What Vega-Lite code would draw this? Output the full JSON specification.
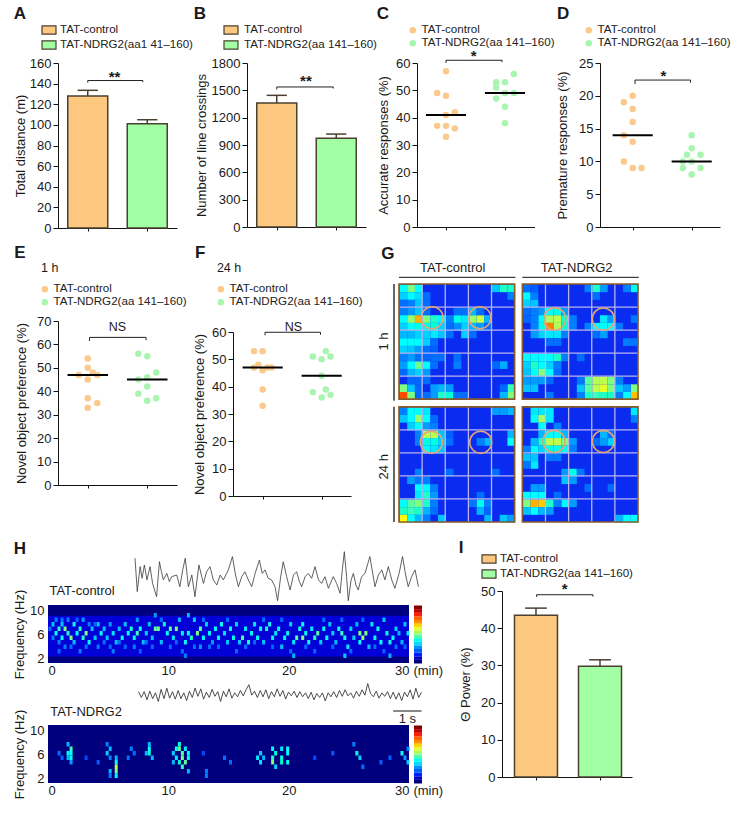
{"$schema":"https://vega.github.io/schema/vega-lite/v6.json","width":738,"height":813,"padding":0,"autosize":{"type":"fit","contains":"padding"},"background":"white",
"config":{"font":"Liberation Sans","view":{"stroke":null},"axis":{"labelFont":"Liberation Sans","titleFont":"Liberation Sans","labelFontSize":13,"titleFontSize":13,"titleFontWeight":"normal","labelColor":"#1a1a1a","titleColor":"#1a1a1a","domainColor":"#111","tickColor":"#111","grid":false,"tickSize":5,"labelPadding":2,"titlePadding":3,"labelOverlap":false,"format":"d"},"legend":{"labelFont":"Liberation Sans","labelFontSize":11.6,"labelColor":"#222","rowPadding":0,"labelOffset":3,"title":null},"text":{"font":"Liberation Sans","color":"#1a1a1a"}},
"resolve":{"scale":{"x":"independent","y":"independent","color":"independent"},"axis":{"x":"independent","y":"independent"},"legend":{"color":"independent"}},
"datasets":{"jetbar":[{"x0":0,"x1":1,"l":0,"v":0},{"x0":0,"x1":1,"l":1,"v":0.53},{"x0":0,"x1":1,"l":2,"v":1.07},{"x0":0,"x1":1,"l":3,"v":1.6},{"x0":0,"x1":1,"l":4,"v":2.13},{"x0":0,"x1":1,"l":5,"v":2.67},{"x0":0,"x1":1,"l":6,"v":3.2},{"x0":0,"x1":1,"l":7,"v":3.73},{"x0":0,"x1":1,"l":8,"v":4.27},{"x0":0,"x1":1,"l":9,"v":4.8},{"x0":0,"x1":1,"l":10,"v":5.33},{"x0":0,"x1":1,"l":11,"v":5.87},{"x0":0,"x1":1,"l":12,"v":6.4},{"x0":0,"x1":1,"l":13,"v":6.93},{"x0":0,"x1":1,"l":14,"v":7.47},{"x0":0,"x1":1,"l":15,"v":8}]},
"layer":[
{"layer":[
{"data":{"values":[{"g":"TAT-control","p":1,"m":128},{"g":"TAT-NDRG2(aa1 41–160)","p":2,"m":101}]},"mark":{"type":"bar","size":40,"orient":"vertical","stroke":"#4a4030","strokeWidth":1.5},"encoding":{"x":{"field":"p","type":"quantitative","scale":{"domain":[0.5,2.5],"range":[58,177],"nice":false,"zero":false,"padding":0},"axis":{"orient":"bottom","values":[1,2],"labels":false,"title":null,"tickSize":3,"offset":-585}},"y":{"field":"m","type":"quantitative","stack":null,"scale":{"domain":[0,160],"range":[228,63],"nice":false,"zero":false},"axis":{"orient":"left","values":[0,20,40,60,80,100,120,140,160],"title":"Total distance (m)","offset":-58,"format":"d","titlePadding":1.5}},"color":{"field":"g","type":"nominal","scale":{"domain":["TAT-control","TAT-NDRG2(aa1 41–160)"],"range":["#fcc77f","#a3ffa3"]},"legend":{"orient":"none","legendX":41,"legendY":22,"symbolType":"M-1,-0.6H1V0.6H-1Z","symbolSize":196,"symbolStrokeColor":"#4a4030","symbolStrokeWidth":1.2,"rowPadding":-3}}}},
{"data":{"values":[{"x":1,"x2":1,"y":128,"y2":133.5},{"x":0.83,"x2":1.17,"y":133.5,"y2":133.5},{"x":2,"x2":2,"y":101,"y2":105},{"x":1.83,"x2":2.17,"y":105,"y2":105}]},"mark":{"type":"rule","stroke":"#4a4030","strokeWidth":1.5},"encoding":{"x":{"field":"x","type":"quantitative"},"x2":{"field":"x2"},"y":{"field":"y","type":"quantitative"},"y2":{"field":"y2"}}},
{"data":{"values":[{"x":1,"x2":1,"y":141,"y2":143},{"x":1,"x2":1.925,"y":143,"y2":143},{"x":1.925,"x2":1.925,"y":143,"y2":141.5}]},"mark":{"type":"rule","stroke":"#222","strokeWidth":1},"encoding":{"x":{"field":"x","type":"quantitative"},"x2":{"field":"x2"},"y":{"field":"y","type":"quantitative"},"y2":{"field":"y2"}}},
{"data":{"values":[{"x":1.45,"y":146,"t":"**"}]},"mark":{"type":"text","fontSize":15,"fontWeight":"bold"},"encoding":{"x":{"field":"x","type":"quantitative"},"y":{"field":"y","type":"quantitative"},"text":{"field":"t"}}},
{"data":{"values":[{"x":-0.14,"y":207.5,"t":"A"}]},"mark":{"type":"text","fontSize":17,"fontWeight":"bold"},"encoding":{"x":{"field":"x","type":"quantitative"},"y":{"field":"y","type":"quantitative"},"text":{"field":"t"}}}
]},
{"layer":[
{"data":{"values":[{"g":"TAT-control","p":1,"m":1360},{"g":"TAT-NDRG2(aa 141–160)","p":2,"m":975}]},"mark":{"type":"bar","size":40,"orient":"vertical","stroke":"#4a4030","strokeWidth":1.5},"encoding":{"x":{"field":"p","type":"quantitative","scale":{"domain":[0.5,2.5],"range":[247,366],"nice":false,"zero":false,"padding":0},"axis":{"orient":"bottom","values":[1,2],"labels":false,"title":null,"tickSize":3,"offset":-586}},"y":{"field":"m","type":"quantitative","stack":null,"scale":{"domain":[0,1800],"range":[227,63],"nice":false,"zero":false},"axis":{"orient":"left","values":[0,300,600,900,1200,1500,1800],"title":"Number of line crossings","offset":-247,"format":"d"}},"color":{"field":"g","type":"nominal","scale":{"domain":["TAT-control","TAT-NDRG2(aa 141–160)"],"range":["#fcc77f","#a3ffa3"]},"legend":{"orient":"none","legendX":223,"legendY":22,"symbolType":"M-1,-0.6H1V0.6H-1Z","symbolSize":196,"symbolStrokeColor":"#4a4030","symbolStrokeWidth":1.2,"rowPadding":-3,"labelOffset":5}}}},
{"data":{"values":[{"x":1,"x2":1,"y":1360,"y2":1445},{"x":0.83,"x2":1.17,"y":1445,"y2":1445},{"x":2,"x2":2,"y":975,"y2":1020},{"x":1.83,"x2":2.17,"y":1020,"y2":1020}]},"mark":{"type":"rule","stroke":"#4a4030","strokeWidth":1.5},"encoding":{"x":{"field":"x","type":"quantitative"},"x2":{"field":"x2"},"y":{"field":"y","type":"quantitative"},"y2":{"field":"y2"}}},
{"data":{"values":[{"x":1,"x2":1,"y":1510,"y2":1537},{"x":1,"x2":1.95,"y":1537,"y2":1537},{"x":1.95,"x2":1.95,"y":1537,"y2":1520}]},"mark":{"type":"rule","stroke":"#222","strokeWidth":1},"encoding":{"x":{"field":"x","type":"quantitative"},"x2":{"field":"x2"},"y":{"field":"y","type":"quantitative"},"y2":{"field":"y2"}}},
{"data":{"values":[{"x":1.49,"y":1600,"t":"**"}]},"mark":{"type":"text","fontSize":15,"fontWeight":"bold"},"encoding":{"x":{"field":"x","type":"quantitative"},"y":{"field":"y","type":"quantitative"},"text":{"field":"t"}}},
{"data":{"values":[{"x":-0.29,"y":2338,"t":"B"}]},"mark":{"type":"text","fontSize":17,"fontWeight":"bold"},"encoding":{"x":{"field":"x","type":"quantitative"},"y":{"field":"y","type":"quantitative"},"text":{"field":"t"}}}
]},
{"layer":[
{"data":{"values":[{"g":"TAT-control","p":1,"m":57},{"g":"TAT-control","p":0.85,"m":49},{"g":"TAT-control","p":1,"m":48},{"g":"TAT-control","p":1.15,"m":42},{"g":"TAT-control","p":1,"m":41},{"g":"TAT-control","p":0.85,"m":37},{"g":"TAT-control","p":1,"m":37},{"g":"TAT-control","p":1.15,"m":36},{"g":"TAT-control","p":1,"m":33},{"g":"TAT-NDRG2(aa 141–160)","p":1.85,"m":53},{"g":"TAT-NDRG2(aa 141–160)","p":2,"m":53},{"g":"TAT-NDRG2(aa 141–160)","p":2.15,"m":56},{"g":"TAT-NDRG2(aa 141–160)","p":1.85,"m":51},{"g":"TAT-NDRG2(aa 141–160)","p":2,"m":49},{"g":"TAT-NDRG2(aa 141–160)","p":2.15,"m":49},{"g":"TAT-NDRG2(aa 141–160)","p":1.85,"m":47},{"g":"TAT-NDRG2(aa 141–160)","p":2,"m":44},{"g":"TAT-NDRG2(aa 141–160)","p":2,"m":38}]},"mark":{"type":"circle","size":42,"opacity":1},"encoding":{"x":{"field":"p","type":"quantitative","scale":{"domain":[0.5,2.5],"range":[416.5,534.5],"nice":false,"zero":false},"axis":{"orient":"bottom","values":[1,2],"labels":false,"title":null,"tickSize":3,"offset":-586}},"y":{"field":"m","type":"quantitative","scale":{"domain":[0,60],"range":[227,63],"nice":false,"zero":false},"axis":{"orient":"left","values":[0,10,20,30,40,50,60],"title":"Accurate responses (%)","offset":-417,"format":"d","titlePadding":5}},"color":{"field":"g","type":"nominal","scale":{"domain":["TAT-control","TAT-NDRG2(aa 141–160)"],"range":["#fbc98c","#a8f5b0"]},"legend":{"orient":"none","legendX":407,"legendY":24.5,"symbolType":"circle","symbolSize":42}}}},
{"data":{"values":[{"x":0.66,"x2":1.34,"y":41,"y2":41},{"x":1.66,"x2":2.34,"y":49,"y2":49}]},"mark":{"type":"rule","stroke":"#000","strokeWidth":2},"encoding":{"x":{"field":"x","type":"quantitative"},"x2":{"field":"x2"},"y":{"field":"y","type":"quantitative"},"y2":{"field":"y2"}}},
{"data":{"values":[{"x":1,"x2":1,"y":60,"y2":61},{"x":1,"x2":1.95,"y":61,"y2":61},{"x":1.95,"x2":1.95,"y":61,"y2":60.3}]},"mark":{"type":"rule","stroke":"#222","strokeWidth":1},"encoding":{"x":{"field":"x","type":"quantitative"},"x2":{"field":"x2"},"y":{"field":"y","type":"quantitative"},"y2":{"field":"y2"}}},
{"data":{"values":[{"x":1.47,"y":62.5,"t":"*"}]},"mark":{"type":"text","fontSize":15,"fontWeight":"bold"},"encoding":{"x":{"field":"x","type":"quantitative"},"y":{"field":"y","type":"quantitative"},"text":{"field":"t"}}},
{"data":{"values":[{"x":-0.07,"y":78,"t":"C"}]},"mark":{"type":"text","fontSize":17,"fontWeight":"bold"},"encoding":{"x":{"field":"x","type":"quantitative"},"y":{"field":"y","type":"quantitative"},"text":{"field":"t"}}}
]},
{"layer":[
{"data":{"values":[{"g":"TAT-control","p":1,"m":20},{"g":"TAT-control","p":0.85,"m":19},{"g":"TAT-control","p":1,"m":18},{"g":"TAT-control","p":1,"m":16},{"g":"TAT-control","p":0.85,"m":14},{"g":"TAT-control","p":1,"m":13},{"g":"TAT-control","p":0.85,"m":10},{"g":"TAT-control","p":1,"m":9},{"g":"TAT-control","p":1.15,"m":9},{"g":"TAT-NDRG2(aa 141–160)","p":2,"m":14},{"g":"TAT-NDRG2(aa 141–160)","p":2,"m":12},{"g":"TAT-NDRG2(aa 141–160)","p":1.92,"m":11},{"g":"TAT-NDRG2(aa 141–160)","p":2.15,"m":11},{"g":"TAT-NDRG2(aa 141–160)","p":1.85,"m":10},{"g":"TAT-NDRG2(aa 141–160)","p":2,"m":10},{"g":"TAT-NDRG2(aa 141–160)","p":1.85,"m":9},{"g":"TAT-NDRG2(aa 141–160)","p":2.15,"m":9},{"g":"TAT-NDRG2(aa 141–160)","p":2,"m":8}]},"mark":{"type":"circle","size":42,"opacity":1},"encoding":{"x":{"field":"p","type":"quantitative","scale":{"domain":[0.446,2.48],"range":[600,720],"nice":false,"zero":false},"axis":{"orient":"bottom","values":[1,2],"labels":false,"title":null,"tickSize":3,"offset":-586}},"y":{"field":"m","type":"quantitative","scale":{"domain":[0,25],"range":[227,63],"nice":false,"zero":false},"axis":{"orient":"left","values":[0,5,10,15,20,25],"title":"Premature responses (%)","offset":-600,"format":"d","titlePadding":9}},"color":{"field":"g","type":"nominal","scale":{"domain":["TAT-control","TAT-NDRG2(aa 141–160)"],"range":["#fbc98c","#a8f5b0"]},"legend":{"orient":"none","legendX":583,"legendY":24.5,"symbolType":"circle","symbolSize":42}}}},
{"data":{"values":[{"x":0.66,"x2":1.34,"y":14,"y2":14},{"x":1.66,"x2":2.34,"y":10,"y2":10}]},"mark":{"type":"rule","stroke":"#000","strokeWidth":2},"encoding":{"x":{"field":"x","type":"quantitative"},"x2":{"field":"x2"},"y":{"field":"y","type":"quantitative"},"y2":{"field":"y2"}}},
{"data":{"values":[{"x":1.04,"x2":1.04,"y":21.8,"y2":22.4},{"x":1.04,"x2":1.98,"y":22.4,"y2":22.4},{"x":1.98,"x2":1.98,"y":22.4,"y2":22}]},"mark":{"type":"rule","stroke":"#222","strokeWidth":1},"encoding":{"x":{"field":"x","type":"quantitative"},"x2":{"field":"x2"},"y":{"field":"y","type":"quantitative"},"y2":{"field":"y2"}}},
{"data":{"values":[{"x":1.52,"y":23,"t":"*"}]},"mark":{"type":"text","fontSize":15,"fontWeight":"bold"},"encoding":{"x":{"field":"x","type":"quantitative"},"y":{"field":"y","type":"quantitative"},"text":{"field":"t"}}},
{"data":{"values":[{"x":-0.18,"y":32.5,"t":"D"}]},"mark":{"type":"text","fontSize":17,"fontWeight":"bold"},"encoding":{"x":{"field":"x","type":"quantitative"},"y":{"field":"y","type":"quantitative"},"text":{"field":"t"}}}
]},
{"layer":[
{"data":{"values":[{"g":"TAT-control","p":1,"m":54},{"g":"TAT-control","p":1,"m":50},{"g":"TAT-control","p":1.085,"m":48},{"g":"TAT-control","p":0.85,"m":47},{"g":"TAT-control","p":1.16,"m":47},{"g":"TAT-control","p":1,"m":45},{"g":"TAT-control","p":1,"m":37},{"g":"TAT-control","p":1.16,"m":35},{"g":"TAT-control","p":1,"m":33},{"g":"TAT-NDRG2(aa 141–160)","p":1.85,"m":56},{"g":"TAT-NDRG2(aa 141–160)","p":2,"m":55},{"g":"TAT-NDRG2(aa 141–160)","p":2.15,"m":48},{"g":"TAT-NDRG2(aa 141–160)","p":2,"m":46},{"g":"TAT-NDRG2(aa 141–160)","p":1.85,"m":45},{"g":"TAT-NDRG2(aa 141–160)","p":2,"m":42},{"g":"TAT-NDRG2(aa 141–160)","p":1.85,"m":39},{"g":"TAT-NDRG2(aa 141–160)","p":2.15,"m":37},{"g":"TAT-NDRG2(aa 141–160)","p":2,"m":36}]},"mark":{"type":"circle","size":42,"opacity":1},"encoding":{"x":{"field":"p","type":"quantitative","scale":{"domain":[0.5,2.5],"range":[58,177],"nice":false,"zero":false},"axis":{"orient":"bottom","values":[1,2],"labels":false,"title":null,"tickSize":3,"offset":-328}},"y":{"field":"m","type":"quantitative","scale":{"domain":[0,70],"range":[485,321],"nice":false,"zero":false},"axis":{"orient":"left","values":[0,10,20,30,40,50,60,70],"title":"Novel object preference (%)","offset":-58,"format":"d","titlePadding":8}},"color":{"field":"g","type":"nominal","scale":{"domain":["TAT-control","TAT-NDRG2(aa 141–160)"],"range":["#fbc98c","#a8f5b0"]},"legend":{"orient":"none","legendX":39,"legendY":283.5,"symbolType":"circle","symbolSize":42}}}},
{"data":{"values":[{"x":0.66,"x2":1.34,"y":47,"y2":47},{"x":1.66,"x2":2.34,"y":45,"y2":45}]},"mark":{"type":"rule","stroke":"#000","strokeWidth":2},"encoding":{"x":{"field":"x","type":"quantitative"},"x2":{"field":"x2"},"y":{"field":"y","type":"quantitative"},"y2":{"field":"y2"}}},
{"data":{"values":[{"x":1.03,"x2":1.03,"y":61.5,"y2":63},{"x":1.03,"x2":1.98,"y":63,"y2":63},{"x":1.98,"x2":1.98,"y":63,"y2":61.8}]},"mark":{"type":"rule","stroke":"#222","strokeWidth":1},"encoding":{"x":{"field":"x","type":"quantitative"},"x2":{"field":"x2"},"y":{"field":"y","type":"quantitative"},"y2":{"field":"y2"}}},
{"data":{"values":[{"x":1.5,"y":67.5,"t":"NS"},{"x":0.36,"y":92.6,"t":"1 h"}]},"mark":{"type":"text","fontSize":12.5},"encoding":{"x":{"field":"x","type":"quantitative"},"y":{"field":"y","type":"quantitative"},"text":{"field":"t"}}},
{"data":{"values":[{"x":-0.14,"y":99,"t":"E"}]},"mark":{"type":"text","fontSize":17,"fontWeight":"bold"},"encoding":{"x":{"field":"x","type":"quantitative"},"y":{"field":"y","type":"quantitative"},"text":{"field":"t"}}}
]},
{"layer":[
{"data":{"values":[{"g":"TAT-control","p":0.853,"m":53},{"g":"TAT-control","p":1,"m":53},{"g":"TAT-control","p":0.927,"m":48},{"g":"TAT-control","p":0.853,"m":47},{"g":"TAT-control","p":1.08,"m":47},{"g":"TAT-control","p":1.15,"m":47},{"g":"TAT-control","p":1,"m":46},{"g":"TAT-control","p":1,"m":39},{"g":"TAT-control","p":1,"m":33},{"g":"TAT-NDRG2(aa 141–160)","p":2.07,"m":53},{"g":"TAT-NDRG2(aa 141–160)","p":1.85,"m":51},{"g":"TAT-NDRG2(aa 141–160)","p":2.15,"m":51},{"g":"TAT-NDRG2(aa 141–160)","p":2,"m":50},{"g":"TAT-NDRG2(aa 141–160)","p":2,"m":44},{"g":"TAT-NDRG2(aa 141–160)","p":1.85,"m":38},{"g":"TAT-NDRG2(aa 141–160)","p":2.07,"m":39},{"g":"TAT-NDRG2(aa 141–160)","p":2.15,"m":37},{"g":"TAT-NDRG2(aa 141–160)","p":2,"m":36}]},"mark":{"type":"circle","size":42,"opacity":1},"encoding":{"x":{"field":"p","type":"quantitative","scale":{"domain":[0.497,2.497],"range":[233,351],"nice":false,"zero":false},"axis":{"orient":"bottom","values":[1,2],"labels":false,"title":null,"tickSize":3,"offset":-317}},"y":{"field":"m","type":"quantitative","scale":{"domain":[0,60],"range":[496,332],"nice":false,"zero":false},"axis":{"orient":"left","values":[0,10,20,30,40,50,60],"title":"Novel object preference (%)","offset":-233,"format":"d","titlePadding":5}},"color":{"field":"g","type":"nominal","scale":{"domain":["TAT-control","TAT-NDRG2(aa 141–160)"],"range":["#fbc98c","#a8f5b0"]},"legend":{"orient":"none","legendX":215,"legendY":283.5,"symbolType":"circle","symbolSize":42}}}},
{"data":{"values":[{"x":0.66,"x2":1.34,"y":47,"y2":47},{"x":1.66,"x2":2.34,"y":44,"y2":44}]},"mark":{"type":"rule","stroke":"#000","strokeWidth":2},"encoding":{"x":{"field":"x","type":"quantitative"},"x2":{"field":"x2"},"y":{"field":"y","type":"quantitative"},"y2":{"field":"y2"}}},
{"data":{"values":[{"x":1.04,"x2":1.04,"y":58.8,"y2":59.9},{"x":1.04,"x2":1.98,"y":59.9,"y2":59.9},{"x":1.98,"x2":1.98,"y":59.9,"y2":59}]},"mark":{"type":"rule","stroke":"#222","strokeWidth":1},"encoding":{"x":{"field":"x","type":"quantitative"},"x2":{"field":"x2"},"y":{"field":"y","type":"quantitative"},"y2":{"field":"y2"}}},
{"data":{"values":[{"x":1.52,"y":62,"t":"NS"},{"x":0.43,"y":83.4,"t":"24 h"}]},"mark":{"type":"text","fontSize":12.5},"encoding":{"x":{"field":"x","type":"quantitative"},"y":{"field":"y","type":"quantitative"},"text":{"field":"t"}}},
{"data":{"values":[{"x":-0.06,"y":89,"t":"F"}]},"mark":{"type":"text","fontSize":17,"fontWeight":"bold"},"encoding":{"x":{"field":"x","type":"quantitative"},"y":{"field":"y","type":"quantitative"},"text":{"field":"t"}}}
]},
{"layer":[
{"data":{"values":[{"x":0,"x2":15,"y":0,"y2":15},{"x":16,"x2":31,"y":0,"y2":15},{"x":0,"x2":15,"y":16,"y2":31},{"x":16,"x2":31,"y":16,"y2":31}]},"mark":{"type":"rect","fill":"#0a2cf0"},"encoding":{"x":{"field":"x","type":"quantitative","scale":{"domain":[0,31],"range":[399,638],"nice":false,"zero":false},"axis":null},"x2":{"field":"x2"},"y":{"field":"y","type":"quantitative","scale":{"domain":[0,31],"range":[284,522],"nice":false,"zero":false},"axis":null},"y2":{"field":"y2"}}},
{"data":{"values":[{"c":0,"r":0,"v":3},{"c":1,"r":0,"v":4},{"c":2,"r":0,"v":3},{"c":0,"r":1,"v":2.6},{"c":1,"r":1,"v":3},{"c":2,"r":1,"v":2.7},{"c":2,"r":2,"v":2.5},{"c":2,"r":3,"v":2.5},{"c":1,"r":3,"v":2.2},{"c":0,"r":3,"v":2},{"c":13,"r":0,"v":3.5},{"c":14,"r":0,"v":3.5},{"c":12,"r":0,"v":2.5},{"c":14,"r":1,"v":2},{"c":0,"r":4,"v":3},{"c":1,"r":4,"v":4.2},{"c":2,"r":4,"v":5.6},{"c":3,"r":4,"v":4},{"c":4,"r":4,"v":3.5},{"c":5,"r":4,"v":3},{"c":0,"r":5,"v":2.6},{"c":1,"r":5,"v":3},{"c":2,"r":5,"v":3.2},{"c":3,"r":5,"v":3.2},{"c":4,"r":5,"v":3.4},{"c":5,"r":5,"v":2.6},{"c":3,"r":6,"v":2.6},{"c":4,"r":6,"v":2.8},{"c":5,"r":6,"v":2.5},{"c":0,"r":6,"v":2.4},{"c":1,"r":6,"v":2.4},{"c":2,"r":6,"v":2.6},{"c":0,"r":7,"v":3},{"c":1,"r":7,"v":3.1},{"c":2,"r":7,"v":3},{"c":3,"r":7,"v":2.6},{"c":0,"r":8,"v":2.6},{"c":1,"r":8,"v":2.5},{"c":2,"r":8,"v":2.2},{"c":7,"r":4,"v":3.2},{"c":8,"r":4,"v":2.8},{"c":9,"r":4,"v":4.2},{"c":10,"r":4,"v":4.6},{"c":11,"r":4,"v":2.4},{"c":9,"r":3,"v":2.4},{"c":7,"r":3,"v":1.8},{"c":10,"r":5,"v":2.2},{"c":8,"r":5,"v":2.6},{"c":9,"r":5,"v":2.4},{"c":8,"r":6,"v":2.6},{"c":7,"r":5,"v":2.1},{"c":0,"r":9,"v":2},{"c":1,"r":9,"v":2.2},{"c":1,"r":10,"v":3},{"c":2,"r":10,"v":3.9},{"c":3,"r":10,"v":3},{"c":0,"r":10,"v":2.2},{"c":1,"r":11,"v":2.4},{"c":2,"r":11,"v":2.6},{"c":3,"r":11,"v":2.2},{"c":4,"r":9,"v":1.8},{"c":5,"r":9,"v":1.8},{"c":7,"r":9,"v":1.8},{"c":7,"r":10,"v":2},{"c":13,"r":10,"v":2.3},{"c":12,"r":10,"v":1.7},{"c":0,"r":14,"v":6.6},{"c":1,"r":14,"v":4},{"c":0,"r":13,"v":4},{"c":1,"r":13,"v":2.5},{"c":4,"r":13,"v":2.2},{"c":4,"r":14,"v":2.2},{"c":5,"r":14,"v":3.5},{"c":6,"r":14,"v":3.4},{"c":5,"r":13,"v":2.4},{"c":6,"r":13,"v":2.2},{"c":14,"r":13,"v":3.6},{"c":14,"r":14,"v":4},{"c":13,"r":14,"v":2.4},{"c":3,"r":12,"v":1.8},{"c":8,"r":14,"v":1.8},{"c":3,"r":1,"v":1.8},{"c":3,"r":2,"v":1.8},{"c":1,"r":2,"v":2},{"c":0,"r":2,"v":1.8},{"c":3,"r":3,"v":1.8},{"c":6,"r":4,"v":2},{"c":6,"r":5,"v":1.8},{"c":6,"r":6,"v":1.8},{"c":4,"r":7,"v":1.8},{"c":4,"r":8,"v":1.6},{"c":3,"r":8,"v":1.8},{"c":3,"r":9,"v":1.7},{"c":2,"r":9,"v":1.8},{"c":4,"r":10,"v":1.8},{"c":0,"r":11,"v":1.7},{"c":2,"r":12,"v":1.7},{"c":1,"r":12,"v":1.7},{"c":2,"r":13,"v":1.7},{"c":2,"r":14,"v":1.7},{"c":3,"r":14,"v":1.8},{"c":7,"r":14,"v":1.8},{"c":13,"r":13,"v":1.7},{"c":8,"r":3,"v":1.8},{"c":10,"r":3,"v":1.8},{"c":11,"r":5,"v":1.7},{"c":9,"r":6,"v":1.8},
{"c":16,"r":1,"v":3},{"c":17,"r":1,"v":2},{"c":16,"r":2,"v":2.6},{"c":17,"r":2,"v":2.5},{"c":17,"r":3,"v":2},{"c":18,"r":3,"v":2.2},{"c":19,"r":3,"v":3},{"c":20,"r":3,"v":3.2},{"c":21,"r":3,"v":2.2},{"c":18,"r":4,"v":3},{"c":19,"r":4,"v":4.4},{"c":20,"r":4,"v":4.5},{"c":21,"r":4,"v":3.5},{"c":18,"r":5,"v":3.2},{"c":19,"r":5,"v":6},{"c":20,"r":5,"v":4.4},{"c":21,"r":5,"v":3.4},{"c":19,"r":6,"v":2.8},{"c":20,"r":6,"v":2.8},{"c":18,"r":6,"v":2.6},{"c":17,"r":6,"v":2.2},{"c":25,"r":0,"v":3.5},{"c":24,"r":0,"v":2},{"c":26,"r":0,"v":2.2},{"c":25,"r":1,"v":1.8},{"c":26,"r":4,"v":2.8},{"c":27,"r":4,"v":2.2},{"c":25,"r":5,"v":3},{"c":26,"r":5,"v":3},{"c":27,"r":5,"v":3},{"c":26,"r":6,"v":2.2},{"c":30,"r":0,"v":3.2},{"c":29,"r":0,"v":2},{"c":30,"r":4,"v":1.9},{"c":29,"r":7,"v":2},{"c":30,"r":7,"v":1.9},{"c":20,"r":7,"v":1.8},{"c":17,"r":9,"v":3},{"c":16,"r":9,"v":3},{"c":18,"r":9,"v":3},{"c":19,"r":9,"v":3},{"c":20,"r":9,"v":3.5},{"c":16,"r":10,"v":2.6},{"c":17,"r":10,"v":3.5},{"c":18,"r":10,"v":3},{"c":19,"r":10,"v":2.6},{"c":16,"r":11,"v":2.5},{"c":17,"r":11,"v":3},{"c":18,"r":11,"v":4},{"c":19,"r":11,"v":3},{"c":16,"r":12,"v":2.2},{"c":17,"r":12,"v":2.2},{"c":18,"r":12,"v":2.2},{"c":16,"r":13,"v":2.5},{"c":17,"r":13,"v":2.5},{"c":23,"r":9,"v":1.8},{"c":24,"r":12,"v":3.8},{"c":24,"r":13,"v":3.8},{"c":24,"r":14,"v":3.5},{"c":25,"r":12,"v":4.4},{"c":26,"r":12,"v":4.5},{"c":25,"r":13,"v":4.5},{"c":26,"r":13,"v":4.8},{"c":25,"r":14,"v":3.6},{"c":26,"r":14,"v":3.5},{"c":27,"r":12,"v":4},{"c":27,"r":13,"v":4},{"c":27,"r":14,"v":3.5},{"c":23,"r":13,"v":2.5},{"c":28,"r":13,"v":2.5},{"c":30,"r":14,"v":5.5},{"c":30,"r":13,"v":4},{"c":29,"r":14,"v":3},{"c":19,"r":14,"v":1.9},{"c":16,"r":3,"v":1.8},{"c":22,"r":4,"v":2},{"c":22,"r":5,"v":2},{"c":21,"r":6,"v":2},{"c":16,"r":0,"v":1.8},{"c":17,"r":0,"v":1.6},{"c":19,"r":7,"v":1.8},{"c":16,"r":4,"v":1.7},{"c":17,"r":4,"v":2},{"c":17,"r":5,"v":2},{"c":24,"r":5,"v":2},{"c":28,"r":5,"v":1.9},{"c":25,"r":6,"v":1.8},{"c":23,"r":12,"v":1.9},{"c":28,"r":12,"v":2},{"c":23,"r":14,"v":2},{"c":28,"r":14,"v":2},{"c":29,"r":13,"v":2.2},{"c":20,"r":10,"v":2},{"c":21,"r":9,"v":2},{"c":20,"r":11,"v":1.8},{"c":19,"r":12,"v":1.7},
{"c":2,"r":17,"v":4.2},{"c":1,"r":16,"v":3},{"c":2,"r":16,"v":3},{"c":3,"r":16,"v":2.8},{"c":1,"r":17,"v":3},{"c":3,"r":17,"v":3},{"c":0,"r":17,"v":2.5},{"c":1,"r":18,"v":2.6},{"c":2,"r":18,"v":3},{"c":3,"r":19,"v":4.5},{"c":4,"r":19,"v":4.5},{"c":5,"r":19,"v":2.5},{"c":3,"r":20,"v":3.3},{"c":4,"r":20,"v":3.3},{"c":5,"r":20,"v":2.6},{"c":3,"r":21,"v":3},{"c":4,"r":21,"v":2.8},{"c":5,"r":21,"v":2.5},{"c":14,"r":20,"v":3},{"c":14,"r":19,"v":2.4},{"c":11,"r":20,"v":2.4},{"c":10,"r":20,"v":2},{"c":12,"r":16,"v":2.2},{"c":13,"r":16,"v":2.2},{"c":14,"r":16,"v":2.4},{"c":1,"r":25,"v":2.2},{"c":2,"r":26,"v":3},{"c":3,"r":26,"v":3},{"c":3,"r":27,"v":3.5},{"c":2,"r":27,"v":2.8},{"c":1,"r":28,"v":3.8},{"c":2,"r":28,"v":4},{"c":3,"r":28,"v":3.5},{"c":0,"r":28,"v":3},{"c":0,"r":29,"v":3.5},{"c":1,"r":29,"v":3.6},{"c":2,"r":29,"v":3.5},{"c":0,"r":30,"v":5},{"c":1,"r":30,"v":3},{"c":2,"r":30,"v":2.4},{"c":10,"r":28,"v":3.2},{"c":10,"r":29,"v":2.4},{"c":5,"r":30,"v":2.5},{"c":11,"r":30,"v":2.4},{"c":13,"r":30,"v":2.5},{"c":14,"r":30,"v":2.2},{"c":9,"r":28,"v":1.9},{"c":2,"r":24,"v":2},{"c":6,"r":24,"v":1.8},{"c":12,"r":24,"v":1.8},{"c":0,"r":16,"v":2},{"c":4,"r":17,"v":1.8},{"c":4,"r":18,"v":2},{"c":3,"r":18,"v":2.2},{"c":6,"r":20,"v":1.8},{"c":6,"r":19,"v":1.6},{"c":2,"r":19,"v":2},{"c":2,"r":20,"v":2},{"c":2,"r":25,"v":1.9},{"c":3,"r":25,"v":2},{"c":4,"r":26,"v":2},{"c":4,"r":27,"v":2.2},{"c":4,"r":28,"v":2},{"c":4,"r":29,"v":1.8},{"c":3,"r":29,"v":2.4},{"c":3,"r":30,"v":2},{"c":10,"r":27,"v":1.8},{"c":11,"r":28,"v":2},{"c":11,"r":29,"v":1.7},
{"c":18,"r":16,"v":2.8},{"c":17,"r":16,"v":2.8},{"c":19,"r":16,"v":2.8},{"c":17,"r":17,"v":3},{"c":18,"r":17,"v":4.3},{"c":19,"r":17,"v":2.8},{"c":18,"r":18,"v":3},{"c":19,"r":19,"v":3},{"c":20,"r":19,"v":3},{"c":18,"r":20,"v":3.5},{"c":19,"r":20,"v":4.5},{"c":20,"r":20,"v":4.5},{"c":21,"r":20,"v":4},{"c":19,"r":21,"v":3.2},{"c":20,"r":21,"v":3.2},{"c":21,"r":21,"v":3.2},{"c":17,"r":21,"v":3},{"c":16,"r":22,"v":2.5},{"c":17,"r":22,"v":2.5},{"c":17,"r":23,"v":2.8},{"c":26,"r":19,"v":2.4},{"c":27,"r":20,"v":2.6},{"c":26,"r":20,"v":2.2},{"c":22,"r":24,"v":3.2},{"c":21,"r":25,"v":2.5},{"c":22,"r":25,"v":2.2},{"c":16,"r":27,"v":3},{"c":17,"r":27,"v":3},{"c":18,"r":27,"v":3},{"c":16,"r":28,"v":4},{"c":17,"r":28,"v":5.6},{"c":18,"r":28,"v":5.4},{"c":19,"r":28,"v":3.5},{"c":21,"r":28,"v":3},{"c":16,"r":29,"v":2.5},{"c":17,"r":29,"v":3},{"c":18,"r":29,"v":2.4},{"c":30,"r":16,"v":2.8},{"c":29,"r":30,"v":3},{"c":30,"r":30,"v":3},{"c":28,"r":30,"v":2.4},{"c":17,"r":26,"v":2.2},{"c":18,"r":26,"v":2.2},{"c":24,"r":26,"v":1.8},{"c":27,"r":26,"v":1.8},{"c":20,"r":18,"v":2},{"c":21,"r":19,"v":2.4},{"c":22,"r":20,"v":2.2},{"c":22,"r":21,"v":2},{"c":18,"r":19,"v":2.4},{"c":18,"r":21,"v":2.6},{"c":17,"r":20,"v":2.4},{"c":19,"r":22,"v":1.9},{"c":20,"r":22,"v":1.9},{"c":16,"r":23,"v":1.9},{"c":16,"r":21,"v":2},{"c":25,"r":20,"v":1.8},{"c":27,"r":19,"v":1.8},{"c":21,"r":24,"v":2.2},{"c":23,"r":24,"v":1.9},{"c":19,"r":29,"v":2.2},{"c":20,"r":28,"v":2},{"c":20,"r":27,"v":1.8},{"c":22,"r":28,"v":2.2},{"c":30,"r":17,"v":2}]},"mark":{"type":"rect","binSpacing":0},"encoding":{"x":{"field":"c","type":"quantitative","bin":{"step":1,"extent":[0,31]},"axis":null},"y":{"field":"r","type":"quantitative","bin":{"step":1,"extent":[0,31]},"axis":null},"color":{"field":"v","type":"quantitative","legend":null,"scale":{"domain":[0,1,2,3,4,5,6,7,8],"range":["#00007f","#0000ff","#007fff","#00ffff","#7fff7f","#ffff00","#ff7f00","#ff0000","#7f0000"]}}}},
{"data":{"values":[{"x":3,"x2":3,"y":0,"y2":15},{"x":6,"x2":6,"y":0,"y2":15},{"x":9,"x2":9,"y":0,"y2":15},{"x":12,"x2":12,"y":0,"y2":15},{"x":19,"x2":19,"y":0,"y2":15},{"x":22,"x2":22,"y":0,"y2":15},{"x":25,"x2":25,"y":0,"y2":15},{"x":28,"x2":28,"y":0,"y2":15},{"x":3,"x2":3,"y":16,"y2":31},{"x":6,"x2":6,"y":16,"y2":31},{"x":9,"x2":9,"y":16,"y2":31},{"x":12,"x2":12,"y":16,"y2":31},{"x":19,"x2":19,"y":16,"y2":31},{"x":22,"x2":22,"y":16,"y2":31},{"x":25,"x2":25,"y":16,"y2":31},{"x":28,"x2":28,"y":16,"y2":31},{"x":0,"x2":15,"y":3,"y2":3},{"x":0,"x2":15,"y":6,"y2":6},{"x":0,"x2":15,"y":9,"y2":9},{"x":0,"x2":15,"y":12,"y2":12},{"x":16,"x2":31,"y":3,"y2":3},{"x":16,"x2":31,"y":6,"y2":6},{"x":16,"x2":31,"y":9,"y2":9},{"x":16,"x2":31,"y":12,"y2":12},{"x":0,"x2":15,"y":19,"y2":19},{"x":0,"x2":15,"y":22,"y2":22},{"x":0,"x2":15,"y":25,"y2":25},{"x":0,"x2":15,"y":28,"y2":28},{"x":16,"x2":31,"y":19,"y2":19},{"x":16,"x2":31,"y":22,"y2":22},{"x":16,"x2":31,"y":25,"y2":25},{"x":16,"x2":31,"y":28,"y2":28}]},"mark":{"type":"rule","stroke":"#b9b4ee","strokeWidth":1.3},"encoding":{"x":{"field":"x","type":"quantitative","axis":null},"x2":{"field":"x2"},"y":{"field":"y","type":"quantitative","axis":null},"y2":{"field":"y2"}}},
{"data":{"values":[{"x":0,"x2":15,"y":0,"y2":15},{"x":16,"x2":31,"y":0,"y2":15},{"x":0,"x2":15,"y":16,"y2":31},{"x":16,"x2":31,"y":16,"y2":31}]},"mark":{"type":"rect","fillOpacity":0,"stroke":"#8a5a2a","strokeWidth":1.6},"encoding":{"x":{"field":"x","type":"quantitative","axis":null},"x2":{"field":"x2"},"y":{"field":"y","type":"quantitative","axis":null},"y2":{"field":"y2"}}},
{"data":{"values":[{"x":4.3,"y":4.4},{"x":10.5,"y":4.4},{"x":20.2,"y":4.55},{"x":26.5,"y":4.55},{"x":4.2,"y":20.6},{"x":10.6,"y":20.6},{"x":20.1,"y":20.5},{"x":26.5,"y":20.5}]},"mark":{"type":"point","shape":"circle","size":484,"filled":false,"stroke":"#e3a574","strokeWidth":1.5,"opacity":1},"encoding":{"x":{"field":"x","type":"quantitative","axis":null},"y":{"field":"y","type":"quantitative","axis":null}}},
{"data":{"values":[{"x":0,"x2":15.1,"y":-0.87,"y2":-0.87},{"x":16,"x2":31.1,"y":-0.87,"y2":-0.87}]},"mark":{"type":"rule","stroke":"#111","strokeWidth":1},"encoding":{"x":{"field":"x","type":"quantitative","axis":null},"x2":{"field":"x2"},"y":{"field":"y","type":"quantitative","axis":null},"y2":{"field":"y2"}}},
{"data":{"values":[{"x":-0.65,"x2":-0.65,"y":0,"y2":15.2},{"x":-0.65,"x2":-0.65,"y":16,"y2":31}]},"mark":{"type":"rule","stroke":"#666","strokeWidth":2},"encoding":{"x":{"field":"x","type":"quantitative","axis":null},"x2":{"field":"x2"},"y":{"field":"y","type":"quantitative","axis":null},"y2":{"field":"y2"}}},
{"data":{"values":[{"x":6.97,"y":-2.08,"t":"TAT-control"},{"x":23.04,"y":-2.08,"t":"TAT-NDRG2"}]},"mark":{"type":"text","fontSize":13},"encoding":{"x":{"field":"x","type":"quantitative","axis":null},"y":{"field":"y","type":"quantitative","axis":null},"text":{"field":"t"}}},
{"data":{"values":[{"x":-1.95,"y":7.5,"t":"1 h"},{"x":-1.95,"y":23.8,"t":"24 h"}]},"mark":{"type":"text","fontSize":13,"angle":270},"encoding":{"x":{"field":"x","type":"quantitative","axis":null},"y":{"field":"y","type":"quantitative","axis":null},"text":{"field":"t"}}},
{"data":{"values":[{"x":-1.43,"y":-3.9,"t":"G"}]},"mark":{"type":"text","fontSize":17,"fontWeight":"bold"},"encoding":{"x":{"field":"x","type":"quantitative","axis":null},"y":{"field":"y","type":"quantitative","axis":null},"text":{"field":"t"}}}
]},
{"layer":[
{"data":{"values":[{"t0":0,"t1":30,"f0":1.33,"f1":11,"v":0},{"t0":0,"t1":30,"f0":2.4,"f1":9.2,"v":0.7}]},"mark":{"type":"rect"},"encoding":{"x":{"field":"t0","type":"quantitative","scale":{"domain":[0,30],"range":[48,409],"nice":false,"zero":false},"axis":{"orient":"bottom","values":[0,10,20,30],"title":null,"domain":false,"ticks":false,"labelFlush":true,"labelPadding":1,"offset":-150,"format":"d"}},"x2":{"field":"t1"},"y":{"field":"f0","type":"quantitative","scale":{"domain":[1.33,11],"range":[663,605],"nice":false,"zero":false},"axis":{"orient":"left","values":[2,6,10],"title":"Frequency (Hz)","domain":false,"ticks":false,"labelPadding":4,"offset":-48,"format":"d"}},"y2":{"field":"f1"},"color":{"field":"v","type":"quantitative","legend":null,"scale":{"domain":[0,1,2,3,4,5,6,7,8],"range":["#00007f","#0000ff","#007fff","#00ffff","#7fff7f","#ffff00","#ff7f00","#ff0000","#7f0000"]}}}},
{"data":{"values":[{"t":0.25,"f":7.5,"v":2.5},{"t":0.25,"f":5.25,"v":2},{"t":0.5,"f":8.25,"v":2},{"t":0.5,"f":6,"v":3},{"t":0.75,"f":6.75,"v":3.5},{"t":0.75,"f":4.5,"v":2},{"t":1,"f":7.5,"v":2.5},{"t":1,"f":5.25,"v":3},{"t":1.25,"f":6.75,"v":4},{"t":1.25,"f":3.75,"v":2},{"t":1.5,"f":6,"v":3.5},{"t":1.5,"f":8.25,"v":2},{"t":1.75,"f":5.25,"v":4},{"t":2,"f":7.5,"v":3},{"t":2,"f":4.5,"v":2.5},{"t":2.25,"f":6,"v":3},{"t":2.5,"f":6.75,"v":3.5},{"t":2.5,"f":3,"v":2},{"t":2.75,"f":5.25,"v":3.5},{"t":2.75,"f":8.25,"v":2.2},{"t":3,"f":6,"v":4},{"t":3.25,"f":4.5,"v":3},{"t":3.25,"f":7.5,"v":2},{"t":3.5,"f":6.75,"v":2.5},{"t":3.75,"f":5.25,"v":2.5},{"t":4,"f":7.5,"v":2.5},{"t":4,"f":3.75,"v":2},{"t":4.25,"f":6,"v":3},{"t":4.5,"f":6.75,"v":2.5},{"t":4.75,"f":5.25,"v":2.5},{"t":5,"f":7.5,"v":2.2},{"t":5.25,"f":6,"v":2.8},{"t":5.25,"f":3,"v":2},{"t":5.5,"f":4.5,"v":2.5},{"t":5.75,"f":6.75,"v":2.5},{"t":6,"f":5.25,"v":3},{"t":6.25,"f":7.5,"v":2.5},{"t":6.5,"f":6,"v":3},{"t":6.75,"f":6.75,"v":3.5},{"t":7,"f":5.25,"v":3.2},{"t":7,"f":3.75,"v":2},{"t":7.25,"f":8.25,"v":2.2},{"t":7.25,"f":6,"v":3.6},{"t":7.5,"f":6.75,"v":3},{"t":7.75,"f":4.5,"v":2.5},{"t":8,"f":6,"v":2.6},{"t":8.25,"f":7.5,"v":2.5},{"t":8.5,"f":5.25,"v":2.5},{"t":8.75,"f":6.75,"v":3.8},{"t":8.75,"f":9,"v":2.2},{"t":9,"f":6.75,"v":4},{"t":9.25,"f":4.5,"v":2.5},{"t":9.5,"f":7.5,"v":3.4},{"t":9.75,"f":6,"v":3},{"t":10,"f":6.75,"v":3.8},{"t":10.25,"f":5.25,"v":2.8},{"t":10.5,"f":6.75,"v":4},{"t":10.75,"f":8.25,"v":2.4},{"t":11,"f":6,"v":3.2},{"t":11.25,"f":4.5,"v":3},{"t":11.25,"f":2.25,"v":2},{"t":11.5,"f":9,"v":2.4},{"t":11.5,"f":6,"v":3},{"t":11.75,"f":5.25,"v":3.5},{"t":12,"f":8.25,"v":2.6},{"t":12.25,"f":6,"v":4},{"t":12.5,"f":6.75,"v":3.8},{"t":12.5,"f":3.75,"v":2.2},{"t":12.75,"f":5.25,"v":3},{"t":13,"f":7.5,"v":2.6},{"t":13.25,"f":6,"v":3},{"t":13.5,"f":4.5,"v":2.2},{"t":13.75,"f":6.75,"v":3},{"t":14,"f":5.25,"v":3},{"t":14.25,"f":7.5,"v":3},{"t":14.5,"f":6,"v":2.8},{"t":14.75,"f":4.5,"v":2.5},{"t":15,"f":6.75,"v":3},{"t":15.25,"f":5.25,"v":3.2},{"t":15.5,"f":7.5,"v":2.6},{"t":15.75,"f":4.5,"v":2.5},{"t":16,"f":5.25,"v":3.8},{"t":16.25,"f":6.75,"v":2.8},{"t":16.5,"f":4.5,"v":3.5},{"t":16.75,"f":6,"v":3},{"t":17,"f":7.5,"v":2.8},{"t":17.25,"f":5.25,"v":3.2},{"t":17.5,"f":6.75,"v":3},{"t":17.75,"f":4.5,"v":2.5},{"t":18,"f":6.75,"v":3.5},{"t":18.25,"f":7.5,"v":3},{"t":18.5,"f":5.25,"v":3},{"t":18.75,"f":6,"v":2.8},{"t":19,"f":6.75,"v":3},{"t":19.25,"f":3.75,"v":2.5},{"t":19.5,"f":5.25,"v":3},{"t":19.75,"f":6,"v":3.2},{"t":20,"f":7.5,"v":2.6},{"t":20.25,"f":4.5,"v":2.8},{"t":20.25,"f":2.25,"v":2.4},{"t":20.5,"f":5.25,"v":3.8},{"t":20.75,"f":6.75,"v":3.2},{"t":21,"f":5.25,"v":4},{"t":21,"f":7.5,"v":3},{"t":21.25,"f":6,"v":3.2},{"t":21.5,"f":4.5,"v":3},{"t":21.75,"f":6.75,"v":2.8},{"t":22,"f":5.25,"v":3.5},{"t":22.25,"f":6,"v":3.8},{"t":22.5,"f":4.5,"v":2.6},{"t":22.75,"f":6.75,"v":3},{"t":23,"f":5.25,"v":3},{"t":23.25,"f":7.5,"v":2.5},{"t":23.5,"f":6,"v":2.6},{"t":23.75,"f":4.5,"v":2.4},{"t":24,"f":6.75,"v":3},{"t":24.25,"f":6,"v":3.6},{"t":24.5,"f":5.25,"v":3.2},{"t":24.5,"f":2.25,"v":2.6},{"t":24.75,"f":3.75,"v":2.8},{"t":25,"f":6.75,"v":2.6},{"t":25.25,"f":5.25,"v":2.6},{"t":25.5,"f":7.5,"v":2.4},{"t":25.75,"f":6,"v":4},{"t":25.75,"f":4.5,"v":3},{"t":26,"f":5.25,"v":4.2},{"t":26.25,"f":6,"v":4},{"t":26.5,"f":3.75,"v":2.5},{"t":26.75,"f":7.5,"v":2.8},{"t":27,"f":5.25,"v":3},{"t":27.25,"f":6.75,"v":3},{"t":27.5,"f":4.5,"v":3},{"t":27.75,"f":8.25,"v":2.5},{"t":28,"f":6,"v":3.4},{"t":28.25,"f":4.5,"v":3.2},{"t":28.25,"f":2.25,"v":2.4},{"t":28.5,"f":5.25,"v":3},{"t":28.75,"f":6.75,"v":2.6},{"t":29,"f":6,"v":2.4},{"t":29.25,"f":4.5,"v":2.4},{"t":29.5,"f":7.5,"v":2.5},{"t":29.75,"f":6,"v":2.8},{"t":0,"f":6.75,"v":1.8},{"t":0.75,"f":3,"v":1.7},{"t":1,"f":8.25,"v":1.9},{"t":1.75,"f":3.75,"v":1.8},{"t":2.25,"f":8.25,"v":1.7},{"t":3,"f":3.75,"v":1.8},{"t":3.75,"f":7.5,"v":1.7},{"t":4.5,"f":4.5,"v":1.8},{"t":5,"f":3.75,"v":1.7},{"t":5.75,"f":4.5,"v":1.8},{"t":6.25,"f":3.75,"v":1.7},{"t":7.5,"f":3,"v":1.6},{"t":8,"f":4.5,"v":1.8},{"t":8.5,"f":3.75,"v":1.7},{"t":9.25,"f":8.25,"v":1.8},{"t":10,"f":3.75,"v":1.8},{"t":10.5,"f":4.5,"v":1.7},{"t":11,"f":3,"v":1.8},{"t":12,"f":3.75,"v":1.8},{"t":12.75,"f":8.25,"v":1.7},{"t":13.25,"f":3.75,"v":1.8},{"t":14,"f":3.75,"v":1.7},{"t":14.75,"f":8.25,"v":1.8},{"t":15.5,"f":3,"v":1.7},{"t":16.25,"f":3.75,"v":1.8},{"t":17,"f":4.5,"v":1.7},{"t":17.75,"f":8.25,"v":1.8},{"t":18.5,"f":3.75,"v":1.7},{"t":19.25,"f":8.25,"v":1.7},{"t":20,"f":3,"v":1.8},{"t":21.25,"f":3.75,"v":1.7},{"t":22,"f":3,"v":1.7},{"t":22.75,"f":8.25,"v":1.8},{"t":23.5,"f":3.75,"v":1.7},{"t":24.25,"f":8.25,"v":1.7},{"t":25,"f":3,"v":1.8},{"t":26,"f":8.25,"v":1.7},{"t":27,"f":3.75,"v":1.8},{"t":27.75,"f":3,"v":1.7},{"t":28.75,"f":3.75,"v":1.8},{"t":29.5,"f":3.75,"v":1.7}]},"mark":{"type":"rect","binSpacing":0},"encoding":{"x":{"field":"t","type":"quantitative","bin":{"step":0.25,"extent":[0,30]}},"y":{"field":"f","type":"quantitative","bin":{"step":0.75,"extent":[0,12]}},"color":{"field":"v","type":"quantitative"}}},
{"data":{"values":[{"x":2.83,"y":13.3,"t":"TAT-control"},{"x":31.6,"y":0,"t":"(min)"}]},"mark":{"type":"text","fontSize":13},"encoding":{"x":{"field":"x","type":"quantitative"},"y":{"field":"y","type":"quantitative"},"text":{"field":"t"}}},
{"data":{"values":[{"x":-2.33,"y":20.3,"t":"H"}]},"mark":{"type":"text","fontSize":17,"fontWeight":"bold"},"encoding":{"x":{"field":"x","type":"quantitative"},"y":{"field":"y","type":"quantitative"},"text":{"field":"t"}}}
]},
{"layer":[
{"data":{"values":[{"t0":0,"t1":30,"f0":1.33,"f1":11,"v":0}]},"mark":{"type":"rect"},"encoding":{"x":{"field":"t0","type":"quantitative","scale":{"domain":[0,30],"range":[48,409],"nice":false,"zero":false},"axis":{"orient":"bottom","values":[0,10,20,30],"title":null,"domain":false,"ticks":false,"labelFlush":true,"labelPadding":1,"offset":-30,"format":"d"}},"x2":{"field":"t1"},"y":{"field":"f0","type":"quantitative","scale":{"domain":[1.33,11],"range":[783,725],"nice":false,"zero":false},"axis":{"orient":"left","values":[2,6,10],"title":"Frequency (Hz)","domain":false,"ticks":false,"labelPadding":4,"offset":-48,"format":"d"}},"y2":{"field":"f1"},"color":{"field":"v","type":"quantitative","legend":null,"scale":{"domain":[0,1,2,3,4,5,6,7,8],"range":["#00007f","#0000ff","#007fff","#00ffff","#7fff7f","#ffff00","#ff7f00","#ff0000","#7f0000"]}}}},
{"data":{"values":[{"t":0.75,"f":6,"v":1.8},{"t":1,"f":5.25,"v":1.6},{"t":1.5,"f":7.5,"v":2.4},{"t":1.5,"f":6,"v":3},{"t":1.5,"f":5.25,"v":2.4},{"t":1.75,"f":6.75,"v":3.6},{"t":1.75,"f":6,"v":3},{"t":1.75,"f":5.25,"v":3.2},{"t":1.75,"f":4.5,"v":2.2},{"t":3,"f":5.25,"v":1.4},{"t":4,"f":4.5,"v":1.6},{"t":4.75,"f":7.5,"v":2},{"t":4.75,"f":6,"v":2.6},{"t":5,"f":6.75,"v":2.4},{"t":5,"f":5.25,"v":2},{"t":5,"f":3,"v":2.4},{"t":5,"f":2.25,"v":2},{"t":5.5,"f":5.25,"v":2.4},{"t":5.5,"f":4.5,"v":3},{"t":5.5,"f":3.75,"v":4.5},{"t":5.5,"f":3,"v":4},{"t":5.5,"f":2.25,"v":3},{"t":6.5,"f":5.25,"v":1.8},{"t":6.75,"f":6.75,"v":2},{"t":7,"f":6,"v":1.8},{"t":8,"f":6,"v":2.4},{"t":8.25,"f":7.5,"v":2.4},{"t":8.25,"f":6.75,"v":3},{"t":8.25,"f":6,"v":3.4},{"t":8.5,"f":5.25,"v":2.4},{"t":10.25,"f":6,"v":2.6},{"t":10.25,"f":4.5,"v":2.4},{"t":10.5,"f":6.75,"v":3},{"t":10.5,"f":5.25,"v":2.8},{"t":10.75,"f":7.5,"v":3.4},{"t":10.75,"f":6.75,"v":3.8},{"t":10.75,"f":4.5,"v":3.4},{"t":11,"f":6,"v":3.8},{"t":11,"f":5.25,"v":4},{"t":11,"f":3.75,"v":3.6},{"t":11.25,"f":6.75,"v":2.8},{"t":11.25,"f":4.5,"v":3.8},{"t":11.5,"f":6,"v":3},{"t":11.5,"f":5.25,"v":3.4},{"t":11.5,"f":3,"v":2.4},{"t":12.75,"f":6,"v":1.4},{"t":13,"f":3,"v":2},{"t":13,"f":2.25,"v":2},{"t":14.5,"f":5.25,"v":1.8},{"t":15,"f":4.5,"v":1.8},{"t":17.25,"f":5.25,"v":2.8},{"t":17.5,"f":6,"v":2.6},{"t":17.5,"f":4.5,"v":2.8},{"t":17.75,"f":5.25,"v":2.4},{"t":18.5,"f":6.75,"v":3},{"t":18.5,"f":5.25,"v":3.6},{"t":18.5,"f":4.5,"v":4},{"t":18.75,"f":6,"v":3.4},{"t":18.75,"f":3.75,"v":2.6},{"t":19.25,"f":6.75,"v":2.8},{"t":19.25,"f":5.25,"v":3.4},{"t":19.25,"f":4.5,"v":3.4},{"t":19.75,"f":6.75,"v":3},{"t":19.75,"f":6,"v":3},{"t":19.75,"f":4.5,"v":3.2},{"t":22,"f":5.25,"v":1.4},{"t":23.5,"f":6,"v":1.6},{"t":25.25,"f":7.5,"v":2},{"t":25.5,"f":6,"v":3.2},{"t":25.75,"f":5.25,"v":2.6},{"t":26,"f":3.75,"v":1.8},{"t":27.5,"f":4.5,"v":1.6},{"t":28.25,"f":5.25,"v":1.6},{"t":29.25,"f":6,"v":3},{"t":29.5,"f":5.25,"v":2.2},{"t":29.75,"f":4.5,"v":2.6},{"t":29.75,"f":6.75,"v":2}]},"mark":{"type":"rect","binSpacing":0},"encoding":{"x":{"field":"t","type":"quantitative","bin":{"step":0.25,"extent":[0,30]}},"y":{"field":"f","type":"quantitative","bin":{"step":0.75,"extent":[0,12]}},"color":{"field":"v","type":"quantitative"}}},
{"data":{"values":[{"x":3.16,"y":13.2,"t":"TAT-NDRG2"},{"x":31.6,"y":0,"t":"(min)"}]},"mark":{"type":"text","fontSize":13},"encoding":{"x":{"field":"x","type":"quantitative"},"y":{"field":"y","type":"quantitative"},"text":{"field":"t"}}}
]},
{"data":{"name":"jetbar"},"mark":{"type":"rect","binSpacing":0},"encoding":{"x":{"field":"x0","type":"quantitative","scale":{"domain":[0,1],"range":[414,422],"nice":false,"zero":false},"axis":null},"x2":{"field":"x1"},"y":{"field":"l","type":"quantitative","bin":{"step":1,"extent":[0,16]},"scale":{"domain":[0,16],"range":[663,605],"nice":false,"zero":false},"axis":null},"color":{"field":"v","type":"quantitative","legend":null,"scale":{"domain":[0,1,2,3,4,5,6,7,8],"range":["#00007f","#0000ff","#007fff","#00ffff","#7fff7f","#ffff00","#ff7f00","#ff0000","#7f0000"]}}}},
{"data":{"name":"jetbar"},"mark":{"type":"rect","binSpacing":0},"encoding":{"x":{"field":"x0","type":"quantitative","scale":{"domain":[0,1],"range":[414,422],"nice":false,"zero":false},"axis":null},"x2":{"field":"x1"},"y":{"field":"l","type":"quantitative","bin":{"step":1,"extent":[0,16]},"scale":{"domain":[0,16],"range":[783,725],"nice":false,"zero":false},"axis":null},"color":{"field":"v","type":"quantitative","legend":null,"scale":{"domain":[0,1,2,3,4,5,6,7,8],"range":["#00007f","#0000ff","#007fff","#00ffff","#7fff7f","#ffff00","#ff7f00","#ff0000","#7f0000"]}}}},
{"data":{"values":[{"t":0,"v":0.79},{"t":0.08,"v":-0.64},{"t":0.18,"v":0.43},{"t":0.25,"v":-0.07},{"t":0.33,"v":0.5},{"t":0.42,"v":-0.14},{"t":0.53,"v":0.43},{"t":0.62,"v":-0.29},{"t":0.76,"v":-0.86},{"t":0.86,"v":0.64},{"t":0.93,"v":0.21},{"t":1,"v":-0.14},{"t":1.12,"v":0.14},{"t":1.21,"v":-0.21},{"t":1.29,"v":0},{"t":1.47,"v":0.07},{"t":1.58,"v":-0.43},{"t":1.68,"v":0.29},{"t":1.77,"v":0.79},{"t":1.88,"v":-0.43},{"t":2,"v":0.07},{"t":2.11,"v":-0.86},{"t":2.25,"v":0.5},{"t":2.41,"v":-0.29},{"t":2.52,"v":0.21},{"t":2.64,"v":0.43},{"t":2.76,"v":-0.14},{"t":2.88,"v":-0.36},{"t":3,"v":0.07},{"t":3.11,"v":-0.14},{"t":3.29,"v":0.29},{"t":3.43,"v":0.86},{"t":3.54,"v":0.07},{"t":3.64,"v":-0.43},{"t":3.76,"v":0},{"t":3.87,"v":0.21},{"t":3.99,"v":-0.14},{"t":4.11,"v":-0.43},{"t":4.23,"v":0.14},{"t":4.38,"v":0.71},{"t":4.48,"v":0.14},{"t":4.58,"v":0.29},{"t":4.69,"v":-0.07},{"t":4.81,"v":-0.14},{"t":4.93,"v":-0.43},{"t":5.02,"v":-1.03},{"t":5.13,"v":0},{"t":5.22,"v":0.64},{"t":5.34,"v":0},{"t":5.46,"v":-0.57},{"t":5.58,"v":0.07},{"t":5.69,"v":0.21},{"t":5.79,"v":-0.21},{"t":5.87,"v":-0.43},{"t":5.99,"v":0},{"t":6.1,"v":0.14},{"t":6.22,"v":-0.07},{"t":6.34,"v":0.43},{"t":6.46,"v":-0.14},{"t":6.57,"v":-0.29},{"t":6.69,"v":0},{"t":6.81,"v":-0.5},{"t":6.98,"v":0},{"t":7.1,"v":-0.29},{"t":7.22,"v":-0.71},{"t":7.3,"v":0.29},{"t":7.37,"v":1.07},{"t":7.45,"v":0},{"t":7.51,"v":-1.03},{"t":7.61,"v":-0.14},{"t":7.69,"v":0.14},{"t":7.78,"v":-0.36},{"t":7.86,"v":-0.57},{"t":7.98,"v":0},{"t":8.1,"v":0.14},{"t":8.27,"v":0.86},{"t":8.37,"v":0.14},{"t":8.45,"v":-0.43},{"t":8.57,"v":0.07},{"t":8.69,"v":0.29},{"t":8.8,"v":-0.14},{"t":8.92,"v":0.43},{"t":9.04,"v":-0.14},{"t":9.15,"v":-0.5},{"t":9.3,"v":0.14},{"t":9.42,"v":0.86},{"t":9.53,"v":0.07},{"t":9.62,"v":-0.43},{"t":9.74,"v":0},{"t":9.86,"v":0.29},{"t":9.98,"v":-0.43}]},"mark":{"type":"line","stroke":"#3a3a3a","strokeWidth":0.8},"encoding":{"x":{"field":"t","type":"quantitative","scale":{"domain":[0,10],"range":[135,419],"nice":false,"zero":false},"axis":null},"y":{"field":"v","type":"quantitative","scale":{"domain":[-1,1],"range":[600,553.3],"nice":false,"zero":false},"axis":null}}},
{"layer":[
{"data":{"values":[{"t":0,"v":0.1},{"t":0.1,"v":-0.15},{"t":0.2,"v":0.1},{"t":0.3,"v":-0.25},{"t":0.4,"v":0.12},{"t":0.5,"v":-0.2},{"t":0.6,"v":0.05},{"t":0.7,"v":-0.32},{"t":0.8,"v":0.2},{"t":0.9,"v":-0.2},{"t":1,"v":0.25},{"t":1.1,"v":-0.18},{"t":1.2,"v":0.1},{"t":1.3,"v":-0.22},{"t":1.4,"v":0.15},{"t":1.5,"v":-0.2},{"t":1.6,"v":0.05},{"t":1.7,"v":-0.28},{"t":1.8,"v":0.12},{"t":1.9,"v":-0.15},{"t":2,"v":0.25},{"t":2.1,"v":-0.1},{"t":2.2,"v":0.22},{"t":2.3,"v":-0.22},{"t":2.4,"v":0.08},{"t":2.5,"v":-0.15},{"t":2.6,"v":0.2},{"t":2.7,"v":-0.1},{"t":2.8,"v":0.1},{"t":2.9,"v":-0.32},{"t":3,"v":0.12},{"t":3.1,"v":-0.12},{"t":3.2,"v":0.22},{"t":3.3,"v":-0.18},{"t":3.4,"v":0.05},{"t":3.5,"v":-0.12},{"t":3.6,"v":0.15},{"t":3.7,"v":-0.08},{"t":3.8,"v":0.18},{"t":3.9,"v":0.4},{"t":4,"v":-0.05},{"t":4.1,"v":0.12},{"t":4.2,"v":-0.15},{"t":4.3,"v":0.15},{"t":4.4,"v":-0.12},{"t":4.5,"v":0.18},{"t":4.6,"v":-0.2},{"t":4.7,"v":0.1},{"t":4.8,"v":-0.12},{"t":4.9,"v":0.22},{"t":5,"v":-0.1},{"t":5.1,"v":0.15},{"t":5.2,"v":-0.22},{"t":5.3,"v":0.08},{"t":5.4,"v":-0.08},{"t":5.5,"v":0.12},{"t":5.6,"v":-0.15},{"t":5.7,"v":0.1},{"t":5.8,"v":-0.12},{"t":5.9,"v":0.05},{"t":6,"v":-0.2},{"t":6.1,"v":0.08},{"t":6.2,"v":-0.25},{"t":6.3,"v":0.02},{"t":6.4,"v":-0.15},{"t":6.5,"v":0.05},{"t":6.6,"v":-0.3},{"t":6.7,"v":0.05},{"t":6.8,"v":-0.12},{"t":6.9,"v":0.1},{"t":7,"v":-0.15},{"t":7.1,"v":0.15},{"t":7.2,"v":-0.1},{"t":7.3,"v":0.18},{"t":7.4,"v":-0.08},{"t":7.5,"v":0.05},{"t":7.6,"v":-0.18},{"t":7.7,"v":0.12},{"t":7.8,"v":-0.1},{"t":7.9,"v":0.18},{"t":8,"v":-0.05},{"t":8.1,"v":0.45},{"t":8.2,"v":0.02},{"t":8.3,"v":-0.12},{"t":8.4,"v":0.12},{"t":8.5,"v":-0.18},{"t":8.6,"v":0.05},{"t":8.7,"v":-0.1},{"t":8.8,"v":0.1},{"t":8.9,"v":-0.2},{"t":9,"v":0.08},{"t":9.1,"v":-0.22},{"t":9.2,"v":0.05},{"t":9.3,"v":-0.28},{"t":9.4,"v":0.08},{"t":9.5,"v":-0.12},{"t":9.6,"v":0.18},{"t":9.7,"v":-0.22},{"t":9.8,"v":0.25},{"t":9.9,"v":-0.15},{"t":10,"v":0.08}]},"mark":{"type":"line","stroke":"#3a3a3a","strokeWidth":0.9},"encoding":{"x":{"field":"t","type":"quantitative","scale":{"domain":[0,10],"range":[138.5,421.5],"nice":false,"zero":false},"axis":null},"y":{"field":"v","type":"quantitative","scale":{"domain":[-1,1],"range":[717.3,670.7],"nice":false,"zero":false},"axis":null}}},
{"data":{"values":[{"x":9,"x2":10,"y":-0.73,"y2":-0.73}]},"mark":{"type":"rule","stroke":"#111","strokeWidth":1},"encoding":{"x":{"field":"x","type":"quantitative","axis":null},"x2":{"field":"x2"},"y":{"field":"y","type":"quantitative","axis":null},"y2":{"field":"y2"}}},
{"data":{"values":[{"x":9.5,"y":-1.07,"t":"1 s"}]},"mark":{"type":"text","fontSize":13},"encoding":{"x":{"field":"x","type":"quantitative","axis":null},"y":{"field":"y","type":"quantitative","axis":null},"text":{"field":"t"}}}
]},
{"layer":[
{"data":{"values":[{"g":"TAT-control","p":1,"m":43.5},{"g":"TAT-NDRG2(aa 141–160)","p":2,"m":29.8}]},"mark":{"type":"bar","size":43,"orient":"vertical","stroke":"#4a4030","strokeWidth":1.5},"encoding":{"x":{"field":"p","type":"quantitative","scale":{"domain":[0.469,2.5],"range":[502,632],"nice":false,"zero":false,"padding":0},"axis":{"orient":"bottom","values":[1,2],"labels":false,"title":null,"tickSize":3,"offset":-36}},"y":{"field":"m","type":"quantitative","stack":null,"scale":{"domain":[0,50],"range":[777,591],"nice":false,"zero":false},"axis":{"orient":"left","values":[0,10,20,30,40,50],"title":"Θ Power (%)","offset":-502,"format":"d","titlePadding":8}},"color":{"field":"g","type":"nominal","scale":{"domain":["TAT-control","TAT-NDRG2(aa 141–160)"],"range":["#fcc77f","#a3ffa3"]},"legend":{"orient":"none","legendX":481,"legendY":551,"symbolType":"M-1,-0.6H1V0.6H-1Z","symbolSize":196,"symbolStrokeColor":"#4a4030","symbolStrokeWidth":1.2,"rowPadding":-3}}}},
{"data":{"values":[{"x":1,"x2":1,"y":43.5,"y2":45.4},{"x":0.83,"x2":1.17,"y":45.4,"y2":45.4},{"x":2,"x2":2,"y":29.8,"y2":31.5},{"x":1.83,"x2":2.17,"y":31.5,"y2":31.5}]},"mark":{"type":"rule","stroke":"#4a4030","strokeWidth":1.5},"encoding":{"x":{"field":"x","type":"quantitative"},"x2":{"field":"x2"},"y":{"field":"y","type":"quantitative"},"y2":{"field":"y2"}}},
{"data":{"values":[{"x":1.01,"x2":1.01,"y":48.4,"y2":49},{"x":1.01,"x2":1.89,"y":49,"y2":49},{"x":1.89,"x2":1.89,"y":49,"y2":48.5}]},"mark":{"type":"rule","stroke":"#222","strokeWidth":1},"encoding":{"x":{"field":"x","type":"quantitative"},"x2":{"field":"x2"},"y":{"field":"y","type":"quantitative"},"y2":{"field":"y2"}}},
{"data":{"values":[{"x":1.45,"y":50.5,"t":"*"}]},"mark":{"type":"text","fontSize":15,"fontWeight":"bold"},"encoding":{"x":{"field":"x","type":"quantitative"},"y":{"field":"y","type":"quantitative"},"text":{"field":"t"}}},
{"data":{"values":[{"x":-0.17,"y":61.6,"t":"I"}]},"mark":{"type":"text","fontSize":17,"fontWeight":"bold"},"encoding":{"x":{"field":"x","type":"quantitative"},"y":{"field":"y","type":"quantitative"},"text":{"field":"t"}}}
]}
]}
